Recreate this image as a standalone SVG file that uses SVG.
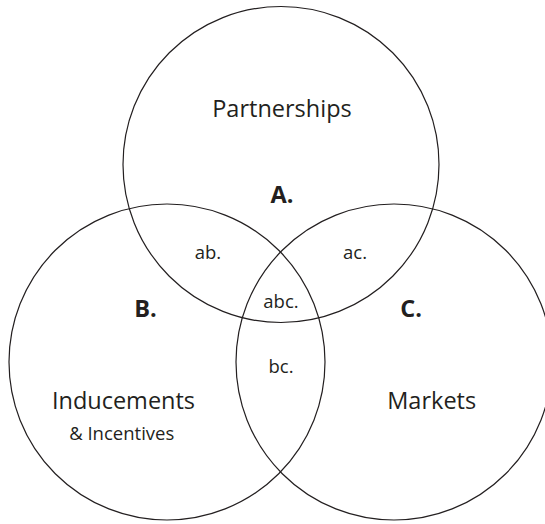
<svg xmlns="http://www.w3.org/2000/svg" width="545" height="524" viewBox="0 0 545 524">
  <style>
    .set { fill: none; stroke: #231f20; stroke-width: 1.2; }
    .lbl { font-family: "Open Sans", "Liberation Sans", sans-serif; fill: #231f20; text-anchor: middle; }
    .name { font-size: 23.5px; }
    .sub { font-size: 18.5px; }
    .key { font-size: 23.5px; font-weight: bold; }
    .zone { font-size: 18.5px; }
  </style>
  <rect width="545" height="524" fill="#ffffff"/>
  <g id="set-a">
    <circle class="set" cx="281" cy="164.5" r="158"/>
    <text class="lbl name" x="282" y="117">Partnerships</text>
    <text class="lbl key" x="282" y="203">A.</text>
  </g>
  <g id="set-b">
    <circle class="set" cx="167" cy="362" r="158"/>
    <text class="lbl key" x="145.5" y="316.5">B.</text>
    <text class="lbl name" x="123.5" y="409">Inducements</text>
    <text class="lbl sub" x="121.7" y="440">&amp; Incentives</text>
  </g>
  <g id="set-c">
    <circle class="set" cx="394" cy="362" r="158"/>
    <text class="lbl key" x="411" y="316.5">C.</text>
    <text class="lbl name" x="431.7" y="409">Markets</text>
  </g>
  <g id="overlaps">
    <text class="lbl zone" x="208" y="259">ab.</text>
    <text class="lbl zone" x="355" y="259">ac.</text>
    <text class="lbl zone" x="281" y="308">abc.</text>
    <text class="lbl zone" x="281" y="373">bc.</text>
  </g>
</svg>
